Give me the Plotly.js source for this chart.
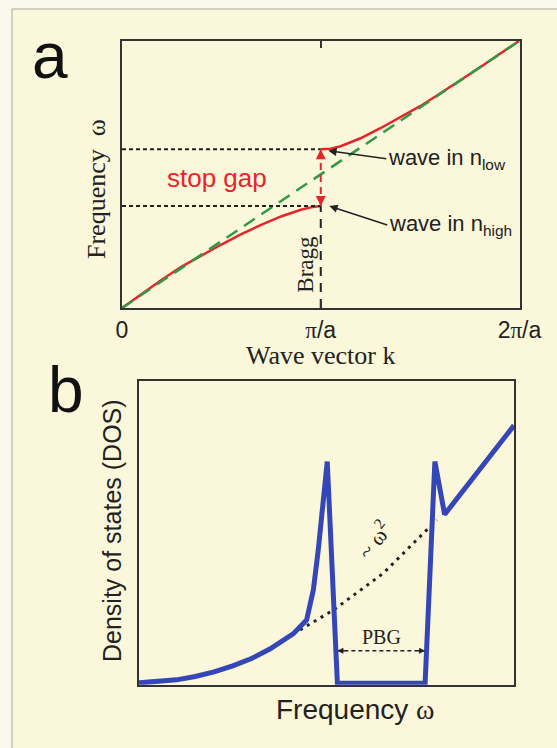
<!DOCTYPE html>
<html><head><meta charset="utf-8">
<script src="https://cdn.plot.ly/plotly-3.0.1.min.js"></script>
<style>html,body{margin:0;padding:0;background:#fbf9ec;}</style>
</head><body><div id="chart" style="width:557px;height:748px;"></div>
<script>
// ---------- Panel a: photonic band dispersion (k in units of pi/a) ----------
const kLower = [0, 0.1, 0.2, 0.3, 0.4, 0.5, 0.6, 0.7, 0.8, 0.9, 0.95, 1.0];
const wLower = [0, 0.107, 0.212, 0.31, 0.395, 0.475, 0.552, 0.622, 0.685, 0.735, 0.753, 0.763];
const kUpper = [1.0, 1.05, 1.1, 1.15, 1.2, 1.3, 1.4, 1.5, 1.6, 1.7, 1.8, 1.9, 2.0];
const wUpper = [1.187, 1.192, 1.21, 1.24, 1.27, 1.345, 1.425, 1.51, 1.605, 1.70, 1.80, 1.90, 2.0];
const kLight = [0, 2];
const wLight = [0, 2];
const kBragg = [1, 1];
const gapEdges = [0.763, 1.187];
const kTicks = [0, 1, 2];
const kTickText = ['0', '<span style="font-family:Liberation Serif">π</span>/a', '2<span style="font-family:Liberation Serif">π</span>/a'];

// ---------- Panel b: density of states ----------
const freq = [0, 0.05, 0.1, 0.15, 0.2, 0.25, 0.3, 0.35, 0.411, 0.447, 0.465, 0.478, 0.491, 0.502, 0.529, 0.763, 0.789, 0.815, 1.0];
const dos  = [0.006, 0.009, 0.016, 0.027, 0.042, 0.062, 0.086, 0.118, 0.167, 0.213, 0.312, 0.443, 0.608, 0.734, 0.005, 0.005, 0.734, 0.56, 0.853];
const freqW2 = [0.411, 0.518, 0.651, 0.723, 0.794];
const dosW2  = [0.167, 0.245, 0.366, 0.454, 0.542];
const pbgEdges = [0.529, 0.763];
const pbgLevel = [0.112, 0.112];

const W = 557, H = 748;
const px = v => v / W;
const py = v => 1 - v / H;

const SANS = 'Liberation Sans, Arial, sans-serif';
const SERIF = 'Liberation Serif, Times New Roman, serif';
const INK = '#222222';
const RED = '#e4262a';
const GREEN = '#2f9a45';
const BLUE = '#3446b8';
const CREAM = '#fbf7da';

const traces = [
  // panel a
  {x: kLower, y: wLower, xaxis: 'x', yaxis: 'y', mode: 'lines', line: {color: RED, width: 2.5}, hoverinfo: 'skip'},
  {x: kUpper, y: wUpper, xaxis: 'x', yaxis: 'y', mode: 'lines', line: {color: RED, width: 2.5}, hoverinfo: 'skip'},
  {x: kLight, y: wLight, xaxis: 'x', yaxis: 'y', mode: 'lines', line: {color: GREEN, width: 2.5, dash: '13px,8px'}, hoverinfo: 'skip'},
  {x: [0, kBragg[0]], y: [gapEdges[1], gapEdges[1]], xaxis: 'x', yaxis: 'y', mode: 'lines', line: {color: INK, width: 2, dash: '4px,3px'}, hoverinfo: 'skip'},
  {x: [0, kBragg[0]], y: [gapEdges[0], gapEdges[0]], xaxis: 'x', yaxis: 'y', mode: 'lines', line: {color: INK, width: 2, dash: '4px,3px'}, hoverinfo: 'skip'},
  {x: kBragg, y: [0, gapEdges[0]], xaxis: 'x', yaxis: 'y', mode: 'lines', line: {color: INK, width: 2, dash: '9px,7px'}, hoverinfo: 'skip'},
  {x: kBragg, y: gapEdges, xaxis: 'x', yaxis: 'y', mode: 'lines', line: {color: RED, width: 2, dash: '7px,5px'}, hoverinfo: 'skip'},
  // panel b
  {x: freqW2, y: dosW2, xaxis: 'x2', yaxis: 'y2', mode: 'lines', line: {color: INK, width: 3, dash: '3px,5px'}, hoverinfo: 'skip'},
  {x: pbgEdges, y: pbgLevel, xaxis: 'x2', yaxis: 'y2', mode: 'lines', line: {color: INK, width: 1.5, dash: '4px,3px'}, hoverinfo: 'skip'},
  {x: freq, y: dos, xaxis: 'x2', yaxis: 'y2', mode: 'lines', line: {color: BLUE, width: 5}, hoverinfo: 'skip'}
];

const axisBase = {showline: true, linecolor: '#333333', linewidth: 2, mirror: true, showgrid: false, zeroline: false, fixedrange: true};

const C = {xanchor: 'center', yanchor: 'middle', showarrow: false};
const annotations = [
  // panel letters
  Object.assign({xref: 'paper', yref: 'paper', x: px(50), y: py(56), text: 'a', font: {family: SANS, size: 64, color: '#111'}}, C),
  Object.assign({xref: 'paper', yref: 'paper', x: px(66), y: py(390), text: 'b', font: {family: SANS, size: 64, color: '#111'}}, C),
  // panel a titles
  Object.assign({xref: 'paper', yref: 'paper', x: px(96), y: py(189), text: 'Frequency  ω', textangle: -90, font: {family: SERIF, size: 26, color: INK}}, C),
  Object.assign({xref: 'paper', yref: 'paper', x: px(321), y: py(355), text: 'Wave vector k', font: {family: SERIF, size: 26, color: INK}}, C),
  Object.assign({xref: 'x', yref: 'y', x: 0.48, y: (gapEdges[0] + gapEdges[1]) / 2, text: 'stop gap', font: {family: SANS, size: 26, color: RED}}, C),
  Object.assign({xref: 'x', yref: 'y', x: kBragg[0], y: 0.33, xshift: -15, text: 'Bragg', textangle: -90, font: {family: SERIF, size: 23, color: INK}}, C),
  {xref: 'x', yref: 'y', x: 1.038, y: gapEdges[1] - 0.01, ax: 58, ay: 8, xanchor: 'left', yanchor: 'middle', text: 'wave in n<sub>low</sub>',
   showarrow: true, arrowhead: 2, arrowsize: 1.1, arrowwidth: 1.5, arrowcolor: INK, font: {family: SANS, size: 22, color: INK}},
  {xref: 'x', yref: 'y', x: 1.043, y: gapEdges[0], ax: 58, ay: 19, xanchor: 'left', yanchor: 'middle', text: 'wave in n<sub>high</sub>',
   showarrow: true, arrowhead: 2, arrowsize: 1.1, arrowwidth: 1.5, arrowcolor: INK, font: {family: SANS, size: 22, color: INK}},
  // red gap arrowheads
  {xref: 'x', yref: 'y', x: kBragg[0], y: gapEdges[1], ax: 0, ay: 9, text: '', showarrow: true, arrowhead: 2, arrowsize: 1, arrowwidth: 2, arrowcolor: RED},
  {xref: 'x', yref: 'y', x: kBragg[0], y: gapEdges[0], ax: 0, ay: -9, text: '', showarrow: true, arrowhead: 2, arrowsize: 1, arrowwidth: 2, arrowcolor: RED},
  // panel b titles
  Object.assign({xref: 'paper', yref: 'paper', x: px(112), y: py(531), text: 'Density of states (DOS)', textangle: -90, font: {family: SANS, size: 25, color: INK}}, C),
  Object.assign({xref: 'paper', yref: 'paper', x: px(355), y: py(709), text: 'Frequency <span style="font-family:Liberation Serif">ω</span>', font: {family: SANS, size: 28, color: INK}}, C),
  Object.assign({xref: 'x2', yref: 'y2', x: (pbgEdges[0] + pbgEdges[1]) / 2, y: pbgLevel[0], yshift: 14, text: 'PBG', font: {family: SERIF, size: 20, color: INK}}, C),
  Object.assign({xref: 'x2', yref: 'y2', x: 0.627, y: 0.478, text: '~ ω<sup>2</sup>', textangle: -52, font: {family: SERIF, size: 22, color: INK}}, C),
  {xref: 'x2', yref: 'y2', x: pbgEdges[0], y: pbgLevel[0], ax: 9, ay: 0, text: '', showarrow: true, arrowhead: 2, arrowsize: 0.8, arrowwidth: 1.5, arrowcolor: INK},
  {xref: 'x2', yref: 'y2', x: pbgEdges[1], y: pbgLevel[0], ax: -9, ay: 0, text: '', showarrow: true, arrowhead: 2, arrowsize: 0.8, arrowwidth: 1.5, arrowcolor: INK}
];

const shapes = [
  {type: 'rect', xref: 'paper', yref: 'paper', x0: 0, x1: 1, y0: py(9), y1: 1, fillcolor: '#fbf9ec', line: {width: 0}, layer: 'below'},
  {type: 'rect', xref: 'paper', yref: 'paper', x0: 0, x1: px(12), y0: 0, y1: 1, fillcolor: '#fbf9ec', line: {width: 0}, layer: 'below'},
  {type: 'line', xref: 'paper', yref: 'paper', x0: px(12), x1: 1, y0: py(9), y1: py(9), line: {color: '#a8a8a0', width: 1}, layer: 'below'},
  {type: 'line', xref: 'paper', yref: 'paper', x0: px(12), x1: px(12), y0: py(9), y1: 0, line: {color: '#a8a8a0', width: 1}, layer: 'below'}
];

const layout = {
  width: W, height: H,
  margin: {l: 0, r: 0, t: 0, b: 0},
  paper_bgcolor: CREAM, plot_bgcolor: CREAM,
  showlegend: false,
  xaxis: Object.assign({}, axisBase, {domain: [px(122), px(519.5)], range: [0, 2], tickmode: 'array', tickvals: kTicks, ticktext: kTickText,
    ticks: 'inside', mirror: 'ticks', ticklen: 7, tickwidth: 2, tickcolor: '#333333', tickfont: {family: SANS, size: 23, color: INK}, anchor: 'y'}),
  yaxis: Object.assign({}, axisBase, {domain: [py(308), py(40.7)], range: [0, 2], showticklabels: false, ticks: '', anchor: 'x'}),
  xaxis2: Object.assign({}, axisBase, {domain: [px(139), px(514)], range: [0, 1], showticklabels: false, ticks: '', anchor: 'y2'}),
  yaxis2: Object.assign({}, axisBase, {domain: [py(684.7), py(380.7)], range: [0, 1], showticklabels: false, ticks: '', anchor: 'x2'}),
  annotations: annotations,
  shapes: shapes
};

Plotly.newPlot('chart', traces, layout, {staticPlot: true, displayModeBar: false});
</script>
</body></html>
